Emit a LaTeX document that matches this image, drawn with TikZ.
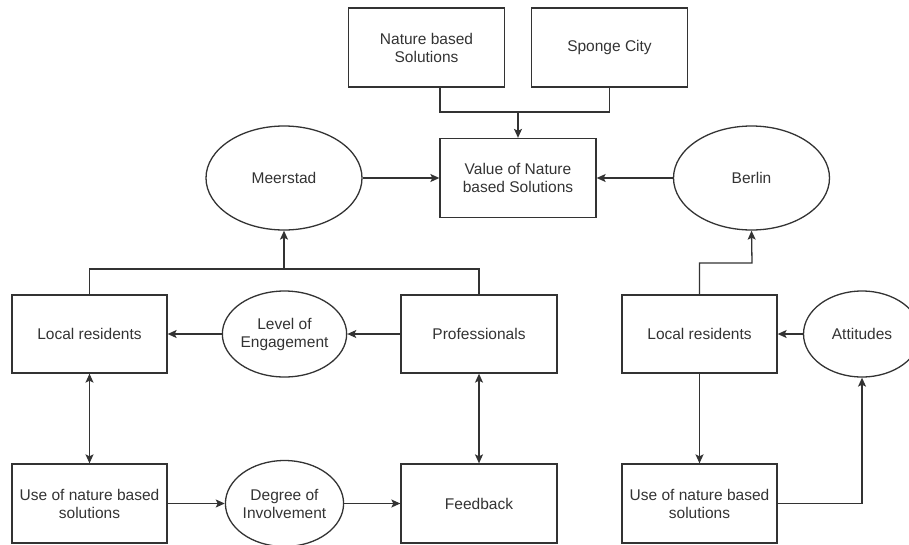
\documentclass[tikz,border=0pt]{standalone}
\usepackage{fontspec}
\setmainfont{Liberation Sans}
\usetikzlibrary{shapes,arrows.meta}
\definecolor{ink}{HTML}{333333}
\tikzset{
	box/.style    = {draw, rectangle, minimum height = 79pt,
		minimum width = 156pt, align = center},
	oval/.style   = {draw, ellipse, minimum height = 104pt,
		minimum width = 156pt, align = center},
	smalloval/.style = {draw, ellipse, minimum height = 86pt,
		minimum width = 117pt, inner sep = 0pt, align = center},
	junction/.style = {coordinate} % Junction
}
\newcommand{\labelfont}{\fontsize{15.5pt}{18pt}\selectfont}

\begin{document}
\begin{tikzpicture}[x=1pt, y=-1pt, line width=1.3pt, draw=ink, text=ink,
	font=\labelfont, >={Stealth[length=9pt,width=8pt,inset=2pt]}]
		\useasboundingbox (0,0) rectangle (909,544);
		\draw
		node at (426.5,47.5) [box] (nbs) {Nature based\\Solutions}
		node at (609.5,47.5) [box] (sponge) {Sponge City}
		node at (518,178) [box] (value) {Value of Nature\\based Solutions}
		node at (284,178) [oval] (meer) {Meerstad}
		node at (751.5,178) [oval] (berlin) {Berlin}
		node at (89.5,334) [box, minimum width=155pt, minimum height=78pt] (lrl) {Local residents}
		node at (284.5,334) [smalloval] (engage) {Level of\\Engagement}
		node at (479,334) [box, minimum height=78pt] (prof) {Professionals}
		node at (89.5,503.5) [box, minimum width=155pt] (usel) {Use of nature based\\solutions}
		node at (284.5,503.5) [smalloval] (involve) {Degree of\\Involvement}
		node at (479,503.5) [box] (feed) {Feedback}
		node at (699.5,334) [box, minimum width=155pt, minimum height=78pt] (lrr) {Local residents}
		node at (862,334) [smalloval] (attit) {Attitudes}
		node at (699.5,503.5) [box, minimum width=155pt] (user) {Use of nature based\\solutions};
		
		\draw node at (518,112) [junction] (topj) {}
		node at (284,269) [junction] (meerj) {}
		node at (752,263) [junction] (berlj) {};
		
		% top
		\draw ([xshift=13.5pt]nbs.south) |- (topj) -| (sponge.south);
		\draw[->] (topj) -- (value);
		\draw[->] (meer) -- (value);
		\draw[->] (berlin) -- (value);
		
		% Meerstad
		\draw (lrl.north) |- (meerj) -| (prof.north);
		\draw[->] (meerj) -- (meer);
		\draw[->] (prof) -- (engage);
		\draw[->] (engage) -- (lrl);
		\draw[<->] (lrl) -- (usel);
		\draw[<->] (prof) -- (feed);
		\draw[->] (usel) -- (involve);
		\draw[->] (involve) -- (feed);
		
		% Berlin
		\draw[->] (lrr.north) |- (berlj) -- (berlin.south);
		\draw[->] (attit) -- (lrr);
		\draw[->] (lrr) -- (user);
		\draw[->] (user.east) -| (attit.south);
		
	\end{tikzpicture}
\end{document}
